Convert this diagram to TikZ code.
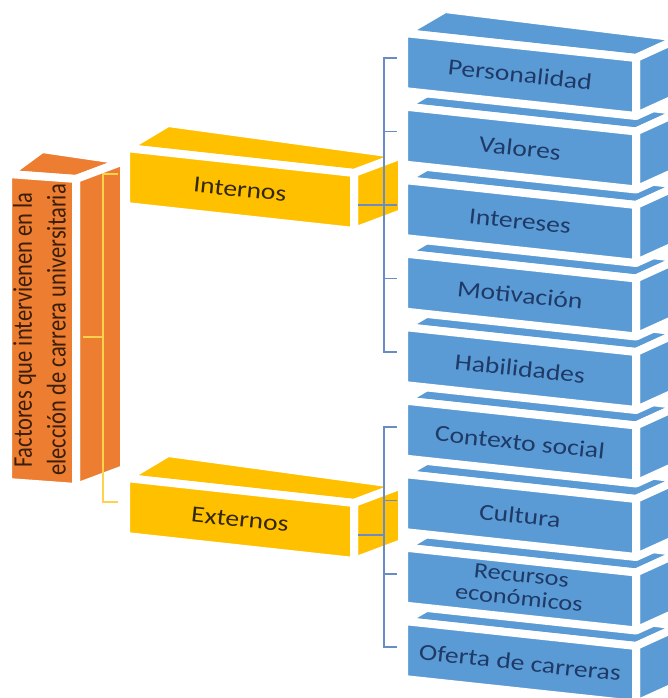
\documentclass[tikz,border=0pt]{standalone}
\usepackage{fontspec}
\setmainfont{Carlito}
\usepackage{graphicx}
\usetikzlibrary{calc}
\definecolor{bblue}{HTML}{5B9BD5}
\definecolor{byel}{HTML}{FFC000}
\definecolor{bora}{HTML}{ED7D31}
\definecolor{tblue}{HTML}{1F3A66}
\definecolor{tdark}{HTML}{33280C}
\definecolor{tora}{HTML}{3A1E08}
\definecolor{brk}{HTML}{6A8CC4}
\definecolor{ylin}{HTML}{FFD24D}
\tikzset{
  face/.style={fill=#1, draw=white, line width=8pt, line join=round},
  lbl/.style={inner sep=0pt, rotate=-6, font=\fontsize{23}{27}\selectfont},
  brkline/.style={draw=brk, line width=1.3pt},
  ybrk/.style={draw=ylin, line width=1.5pt}
}
% \cuboid{x}{y}{w}{h}{drop}{colour}; back offsets from \vLx,\vLy,\vRx,\vRy
\newcommand{\cuboid}[6]{%
  \coordinate (c-tl) at (#1,#2);
  \coordinate (c-tr) at ($(c-tl)+(#3,#5)$);
  \coordinate (c-br) at ($(c-tr)+(0,#4)$);
  \coordinate (c-bl) at ($(c-tl)+(0,#4)$);
  \path[face=#6] (c-tl) -- (c-tr) -- ($(c-tr)+(\vRx,\vRy)$) -- ($(c-tl)+(\vLx,\vLy)$) -- cycle;
  \path[face=#6] (c-tr) -- ($(c-tr)+(\vRx,\vRy)$) -- ($(c-br)+(\vRx,\vRy)$) -- (c-br) -- cycle;
  \path[face=#6] (c-tl) -- (c-tr) -- (c-br) -- (c-bl) -- cycle;
}
\begin{document}
\begin{tikzpicture}[x=1pt,y=-1pt]
\useasboundingbox (0,0) rectangle (668,698);
\clip (0,0) rectangle (668,698);
\fill[white] (0,0) rectangle (668,698);

% orange column
\def\vLx{34}\def\vLy{-25}\def\vRx{48}\def\vRy{-18}
\cuboid{8}{174}{68}{308}{5}{bora}
\node[inner sep=0pt, text=tora, font=\fontsize{22.5}{28}\selectfont] (fac) at (42,330)
  {\scalebox{1.2}[1]{\rotatebox{90}{\begin{tabular}{@{}c@{}}Factores que intervienen en la\\elección de carrera universitaria\end{tabular}}}};

% yellow bracket inside the column
\coordinate (yt) at (118,174);
\coordinate (yv0) at (103,174);
\coordinate (yv1) at (103,502);
\coordinate (yb) at (118,502);
\coordinate (ym) at (103,337);
\coordinate (yl) at (83,337);
\draw[ybrk] (yt) -- (yv0) -- (yv1) -- (yb);
\draw[ybrk] (ym) -- (yl);

% yellow boxes
\def\vLx{42}\def\vLy{-25}\def\vRx{48}\def\vRy{-18}
\cuboid{126}{148}{228}{58}{25}{byel}
\node[lbl, text=tdark] (int) at (240,189.5) {\scalebox{1.2}[1]{Internos}};
\cuboid{126}{478}{228}{58}{25}{byel}
\node[lbl, text=tdark] (ext) at (240,519.5) {\scalebox{1.2}[1]{Externos}};

% blue boxes, bottom first
\def\vLx{41}\def\vLy{-24}\def\vRx{44}\def\vRy{-20}
\foreach \k in {8,7,6,5,4,3,2,1,0}{
  \cuboid{404}{33+73.5*\k}{232}{58}{25}{bblue}
}
\node[lbl, text=tblue] (per) at (520,74.5) {\scalebox{1.2}[1]{Personalidad}};
\node[lbl, text=tblue] (val) at (520,148) {\scalebox{1.2}[1]{Valores}};
\node[lbl, text=tblue] (intr) at (520,221.5) {\scalebox{1.2}[1]{Intereses}};
\node[lbl, text=tblue] (mot) at (520,295) {\scalebox{1.2}[1]{Motivación}};
\node[lbl, text=tblue] (hab) at (520,368.5) {\scalebox{1.2}[1]{Habilidades}};
\node[lbl, text=tblue] (ctx) at (520,442) {\scalebox{1.2}[1]{Contexto social}};
\node[lbl, text=tblue] (cul) at (520,515.5) {\scalebox{1.2}[1]{Cultura}};
\node[lbl, text=tblue, font=\fontsize{22}{24}\selectfont] (rec) at (520,589) {\scalebox{1.2}[1]{\begin{tabular}{@{}c@{}}Recursos\\[-1pt]económicos\end{tabular}}};
\node[lbl, text=tblue] (ofe) at (520,662.5) {\scalebox{1.2}[1]{Oferta de carreras}};

% blue brackets
\foreach \i/\y in {0/58,1/131.5,2/205,3/278.5,4/352}{
  \coordinate (iv\i) at (384,\y);
  \coordinate (it\i) at (397,\y);
}
\coordinate (inout) at (358,205);
\draw[brkline] (it0) -- (iv0) -- (iv4) -- (it4);
\draw[brkline] (iv1) -- (it1);
\draw[brkline] (iv2) -- (it2);
\draw[brkline] (iv3) -- (it3);
\draw[brkline] (inout) -- (iv2);

\foreach \i/\y in {0/427,1/500.5,2/574,3/647}{
  \coordinate (ev\i) at (384,\y);
  \coordinate (et\i) at (397,\y);
}
\coordinate (exout) at (358,535);
\draw[brkline] (et0) -- (ev0) -- (ev3) -- (et3);
\draw[brkline] (ev1) -- (et1);
\draw[brkline] (ev2) -- (et2);
\draw[brkline] (exout) -- ($(ev0)!(exout)!(ev3)$);
\end{tikzpicture}
\end{document}
